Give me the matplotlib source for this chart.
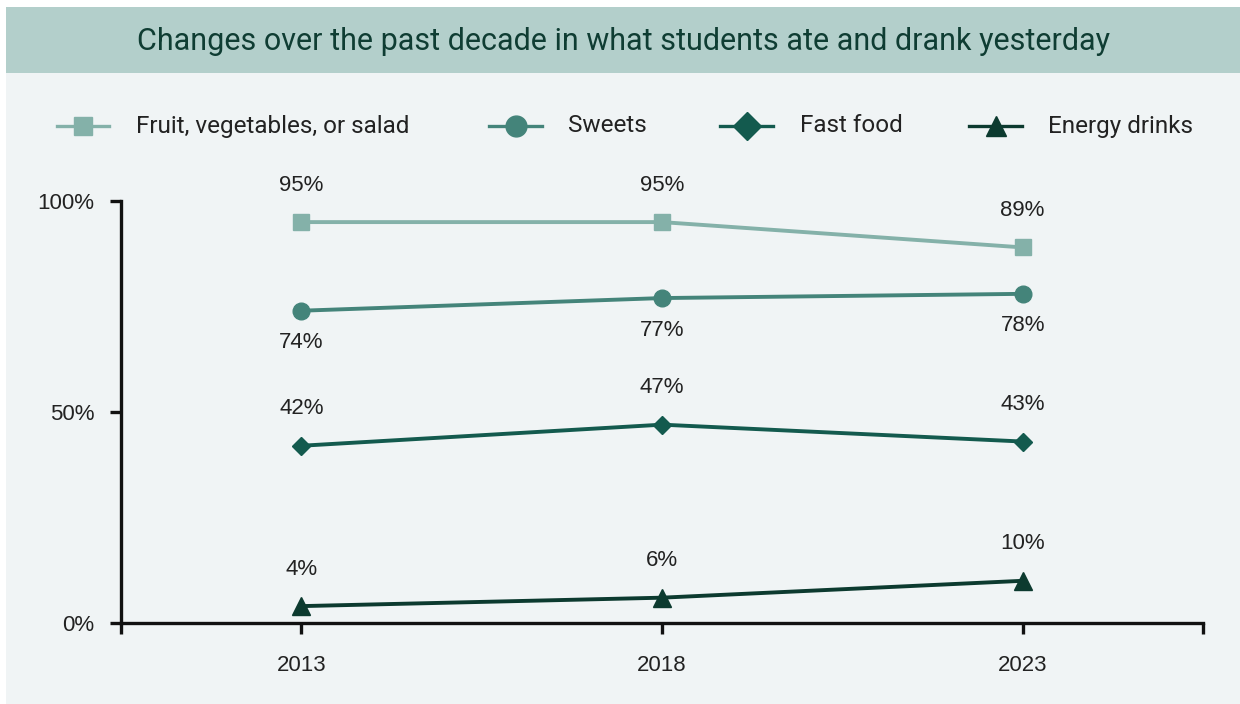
import matplotlib.pyplot as plt
from matplotlib.patches import Rectangle
from matplotlib.lines import Line2D

plt.rcParams['font.family'] = ['Roboto', 'DejaVu Sans']

years = [2013, 2018, 2023]
fruit = [95, 95, 89]
sweets = [74, 77, 78]
fast_food = [42, 47, 43]
energy = [4, 6, 10]
names = ['Fruit, vegetables, or salad', 'Sweets', 'Fast food', 'Energy drinks']

W, H = 1240, 704
num_font = ['Liberation Sans', 'DejaVu Sans']

fig = plt.figure(figsize=(W / 100, H / 100), dpi=100)
fig.patch.set_facecolor('white')

# background panel and title band
fig.patches.append(Rectangle((6 / W, 0), 1 - 6 / W, 1 - 7 / H, transform=fig.transFigure,
                             facecolor='#f0f4f5', edgecolor='none', zorder=0))
fig.patches.append(Rectangle((6 / W, 1 - 73 / H), 1 - 6 / W, 66 / H, transform=fig.transFigure,
                             facecolor='#b3cfcb', edgecolor='none', zorder=0))
fig.text(624 / W, 1 - 41 / H, 'Changes over the past decade in what students ate and drank yesterday',
         ha='center', va='center', fontsize=22, color='#0f3d33')

ax = fig.add_axes([121 / W, 1 - 623 / H, (1203 - 121) / W, (623 - 201) / H])
ax.set_facecolor('none')
ax.set_zorder(2)

series = [
    (fruit, '#84b1a9', 's', 11, 'above'),
    (sweets, '#44847a', 'o', 12, 'below'),
    (fast_food, '#135a4e', 'D', 9.5, 'above'),
    (energy, '#0c3a2f', '^', 13, 'above'),
]
for vals, col, mk, ms, pos in series:
    ax.plot(years, vals, color=col, lw=2.8, marker=mk, ms=ms, mec=col, mfc=col,
            clip_on=False, zorder=3)
    for x, v in zip(years, vals):
        dy = 37 if pos == 'above' else -32
        ax.annotate(f'{v}%', (x, v), xytext=(0, dy), textcoords='offset pixels',
                    ha='center', va='center', fontsize=16, color='#222222',
                    family=num_font)

ax.set_xlim(2010.5, 2025.5)
ax.set_ylim(0, 100)
ax.set_xticks([2010.5, 2013, 2018, 2023, 2025.5])
ax.set_xticklabels(['', '2013', '2018', '2023', ''])
ax.set_yticks([0, 50, 100])
ax.set_yticklabels(['0%', '50%', '100%'])
for lbl in ax.get_xticklabels() + ax.get_yticklabels():
    lbl.set_family(num_font)
for s in ['top', 'right']:
    ax.spines[s].set_visible(False)
for s in ['left', 'bottom']:
    ax.spines[s].set_linewidth(2.4)
    ax.spines[s].set_color('#111111')
ax.tick_params(axis='both', length=8, width=2.4, color='#111111', labelsize=16,
               labelcolor='#222222')
ax.tick_params(axis='x', pad=15)
ax.tick_params(axis='y', pad=11)

# legend row: line segment with marker, then label (pixel positions)
legend_x = [(57, 109, 136), (489, 542, 568), (720, 773, 800), (969, 1022, 1048)]
leg_ms = [13, 15, 14, 15]
ly = 1 - 126 / H
for (x0, x1, xt), (vals, col, mk, ms, pos), name, lms in zip(legend_x, series, names, leg_ms):
    fig.add_artist(Line2D([x0 / W, x1 / W], [ly, ly], color=col, lw=2.4,
                          transform=fig.transFigure))
    fig.add_artist(Line2D([(x0 + x1) / 2 / W], [ly], marker=mk, ms=lms, mec=col, mfc=col,
                          transform=fig.transFigure))
    fig.text(xt / W, ly, name, ha='left', va='center', fontsize=17.5, color='#222222')

fig.savefig('out.png', dpi=100, facecolor=fig.get_facecolor())
